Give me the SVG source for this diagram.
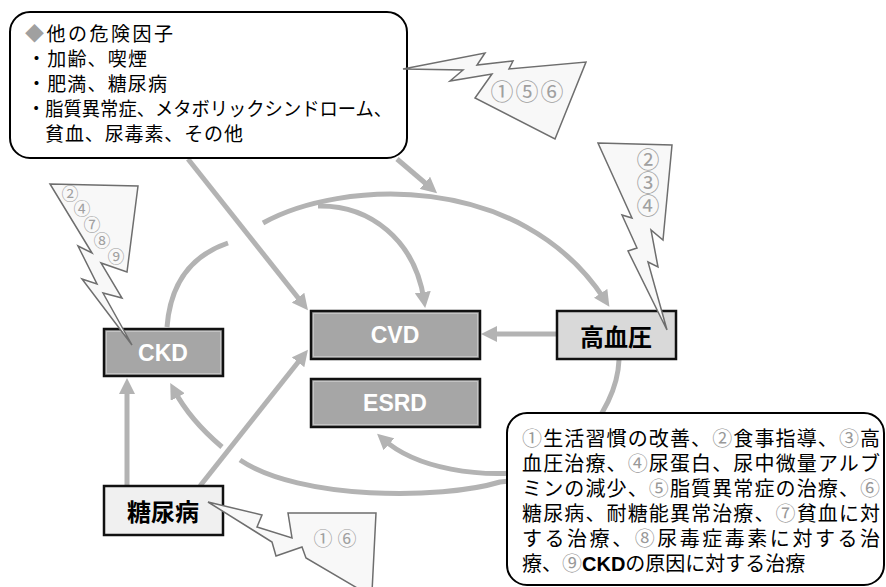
<svg xmlns="http://www.w3.org/2000/svg" width="886" height="587" viewBox="0 0 886 587">
<style>
.conn{fill:none;stroke:#b3b3b3;stroke-width:5}
.arr{marker-end:url(#ah)}
.node{stroke:#111;stroke-width:2.5}
.dark{fill:#a6a6a6}
.inner{fill:none;stroke:#c4c4c4;stroke-width:1}
.wt{font-family:"Liberation Sans",Arial,sans-serif;font-weight:bold;font-size:23px;fill:#fff;text-anchor:middle}
.jp{font-family:"Noto Sans CJK JP","Noto Sans CJK SC",sans-serif}
.jb{font-family:"Noto Sans CJK JP","Noto Sans CJK SC",sans-serif;font-weight:bold;font-size:24px;fill:#000;text-anchor:middle}
.callout{fill:#fff;stroke:#000;stroke-width:2}
.bolt{fill:#f8f8f8;stroke:#6e6e6e;stroke-width:1.5;stroke-linejoin:miter}
.num{font-family:"Noto Sans CJK JP","Noto Sans CJK SC",sans-serif;fill:#a0a0a0;text-anchor:middle}
.g{fill:#999}
</style>
<defs>
<marker id="ah" markerUnits="userSpaceOnUse" markerWidth="16" markerHeight="16" viewBox="0 0 16 16" refX="8" refY="8" orient="auto">
<path d="M0,0 L16,8 L0,16 z" fill="#b3b3b3"/>
</marker>
</defs>
<rect width="886" height="587" fill="#fff"/>
<g id="connectors">
<path class="conn arr" d="M188,159 L303,304"/>
<path class="conn arr" d="M397,159 L431,188"/>
<path class="conn" d="M167,327 Q172,262 228,243"/>
<path class="conn arr" d="M263,223 C340,180 520,170 605,300"/>
<path class="conn arr" d="M318,206 C370,205 415,240 424,300"/>
<path class="conn arr" d="M556,334 L489,334"/>
<path class="conn arr" d="M200,486 L303,356"/>
<path class="conn arr" d="M127,485 L127,386"/>
<path class="conn" d="M619,360 C617,415 560,478 500,482 C440,500 300,500 240,460"/>
<path class="conn arr" d="M222,447 Q190,420 174,390"/>
<path class="conn arr" d="M540,470 C480,480 415,468 383,439"/>
</g>
<g id="ckd">
<rect class="node dark" x="104" y="329" width="119" height="47"/>
<rect class="inner" x="106.5" y="331.5" width="114" height="42"/>
<text class="wt" x="163" y="361">CKD</text>
</g>
<g id="cvd">
<rect class="node dark" x="311" y="311" width="169" height="48"/>
<rect class="inner" x="313.5" y="313.5" width="164" height="43"/>
<text class="wt" x="395" y="343">CVD</text>
</g>
<g id="esrd">
<rect class="node dark" x="311" y="379" width="169" height="48"/>
<rect class="inner" x="313.5" y="381.5" width="164" height="43"/>
<text class="wt" x="395" y="411">ESRD</text>
</g>
<g id="hypertension">
<rect class="node" x="557" y="311" width="119" height="48" fill="#d9d9d9"/>
<text class="jb" x="616" y="346">高血圧</text>
</g>
<g id="diabetes">
<rect class="node" x="104" y="486" width="119" height="49" fill="#f0f0f0"/>
<text class="jb" x="163" y="521">糖尿病</text>
</g>
<g id="risk-factors">
<rect class="callout" x="10" y="12" width="397" height="146" rx="20"/>
<g class="jp" font-size="19" fill="#000">
<text x="25" y="41" textLength="148" lengthAdjust="spacing"><tspan fill="#a0a0a0">◆</tspan>他の危険因子</text>
<text x="27" y="66" textLength="120" lengthAdjust="spacing">・加齢、喫煙</text>
<text x="27" y="91" textLength="140" lengthAdjust="spacing">・肥満、糖尿病</text>
<text x="27" y="116" textLength="365" lengthAdjust="spacingAndGlyphs">・脂質異常症、メタボリックシンドローム、</text>
<text x="45" y="141" textLength="198" lengthAdjust="spacing">貧血、尿毒素、その他</text>
</g>
</g>
<g id="treatments">
<rect class="callout" x="507" y="413" width="377" height="172" rx="20"/>
<g class="jp" font-size="20" fill="#000">
<text x="522" y="446" textLength="358" lengthAdjust="spacing"><tspan class="g">①</tspan>生活習慣の改善、<tspan class="g">②</tspan>食事指導、<tspan class="g">③</tspan>高</text>
<text x="522" y="471" textLength="358" lengthAdjust="spacing">血圧治療、<tspan class="g">④</tspan>尿蛋白、尿中微量アルブ</text>
<text x="522" y="496" textLength="358" lengthAdjust="spacing">ミンの減少、<tspan class="g">⑤</tspan>脂質異常症の治療、<tspan class="g">⑥</tspan></text>
<text x="522" y="521" textLength="358" lengthAdjust="spacing">糖尿病、耐糖能異常治療、<tspan class="g">⑦</tspan>貧血に対</text>
<text x="522" y="546" textLength="358" lengthAdjust="spacing">する治療、<tspan class="g">⑧</tspan>尿毒症毒素に対する治</text>
<text x="522" y="571">療、<tspan class="g">⑨</tspan><tspan font-family="Liberation Sans, Arial, sans-serif" font-weight="bold">CKD</tspan>の原因に対する治療</text>
</g>
</g>
<g id="bolt-156">
<polygon class="bolt" points="403,69 485,53 477,65 513,61 509,69 586,62 555,139 475,98 492,74 450,81 463,70"/>
<text class="num" font-size="23" x="502 527 552" y="100">①⑤⑥</text>
</g>
<g id="bolt-234">
<polygon class="bolt" points="598,143 672,145 663,240 651,230 658,267 648,262 667,330 628,251 637,248 622,215 632,218"/>
<text class="num" font-size="23" x="648" y="168">②</text>
<text class="num" font-size="23" x="648" y="191">③</text>
<text class="num" font-size="23" x="648" y="214">④</text>
</g>
<g id="bolt-24789">
<polygon class="bolt" points="50,184 138,186 127,272 101,263 122,298 103,293 132,345 82,279 97,284 78,246 92,253"/>
<g class="num" font-size="17">
<text x="70" y="200">②</text>
<text x="82" y="215">④</text>
<text x="92" y="231">⑦</text>
<text x="102" y="247">⑧</text>
<text x="116" y="263">⑨</text>
</g>
</g>
<g id="bolt-16">
<polygon class="bolt" points="208,502 262,515 257,527 292,538 288,513 376,513 372,592 364,592 306,558 302,547 276,556 272,542"/>
<text class="num" font-size="19" x="323 347" y="546">①⑥</text>
</g>
</svg>
